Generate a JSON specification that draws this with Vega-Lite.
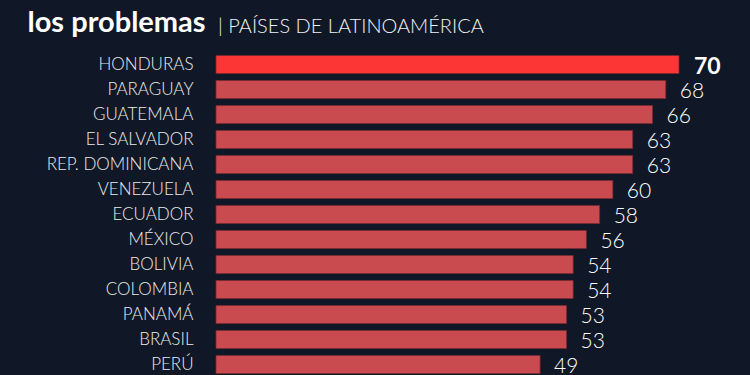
{
  "$schema": "https://vega.github.io/schema/vega-lite/v6.json",
  "width": 463,
  "height": 325,
  "autosize": "none",
  "padding": {"left": 216, "top": 52, "right": 71, "bottom": 0},
  "background": "#101827",
  "config": {"view": {"stroke": null}, "font": "Lato"},
  "title": {
    "text": "| PAÍSES DE LATINOAMÉRICA",
    "anchor": "start",
    "frame": "group",
    "orient": "top",
    "baseline": "alphabetic",
    "offset": 21,
    "dx": 2,
    "dy": 66,
    "font": "Lato",
    "fontSize": 20,
    "fontWeight": 300,
    "color": "#f2f2f2"
  },
  "data": {
    "values": [
      {"pais": "HONDURAS", "valor": 70, "destacado": "si"},
      {"pais": "PARAGUAY", "valor": 68, "destacado": "no"},
      {"pais": "GUATEMALA", "valor": 66, "destacado": "no"},
      {"pais": "EL SALVADOR", "valor": 63, "destacado": "no"},
      {"pais": "REP. DOMINICANA", "valor": 63, "destacado": "no"},
      {"pais": "VENEZUELA", "valor": 60, "destacado": "no"},
      {"pais": "ECUADOR", "valor": 58, "destacado": "no"},
      {"pais": "MÉXICO", "valor": 56, "destacado": "no"},
      {"pais": "BOLIVIA", "valor": 54, "destacado": "no"},
      {"pais": "COLOMBIA", "valor": 54, "destacado": "no"},
      {"pais": "PANAMÁ", "valor": 53, "destacado": "no"},
      {"pais": "BRASIL", "valor": 53, "destacado": "no"},
      {"pais": "PERÚ", "valor": 49, "destacado": "no"}
    ]
  },
  "encoding": {
    "y": {
      "field": "pais",
      "type": "nominal",
      "sort": null,
      "scale": {"paddingInner": 0.28, "paddingOuter": 0.14},
      "axis": {
        "title": "los problemas",
        "titleAngle": 0,
        "titleX": -189,
        "titleY": -21,
        "titleAlign": "left",
        "titleBaseline": "alphabetic",
        "titleFont": "Lato",
        "titleFontSize": 29,
        "titleFontWeight": "bold",
        "titleColor": "#ffffff",
        "domain": false,
        "ticks": false,
        "labelPadding": 23,
        "labelFont": "Lato",
        "labelFontSize": 17,
        "labelFontWeight": 300,
        "labelColor": "#ebebeb"
      }
    },
    "x": {
      "field": "valor",
      "type": "quantitative",
      "scale": {"domain": [0, 70]},
      "axis": null
    }
  },
  "layer": [
    {
      "mark": {"type": "bar", "stroke": "#7a2a30", "strokeWidth": 0.8},
      "encoding": {
        "color": {
          "field": "destacado",
          "type": "nominal",
          "scale": {"domain": ["si", "no"], "range": ["#fc3535", "#c94b50"]},
          "legend": null
        }
      }
    },
    {
      "transform": [{"filter": "datum.destacado == 'no'"}],
      "mark": {"type": "text", "align": "left", "baseline": "middle", "dx": 14, "dy": 2, "font": "Lato", "fontSize": 21, "fontWeight": 300, "color": "#ffffff"},
      "encoding": {"text": {"field": "valor", "type": "quantitative"}}
    },
    {
      "transform": [{"filter": "datum.destacado == 'si'"}],
      "mark": {"type": "text", "align": "left", "baseline": "middle", "dx": 15, "dy": 2, "font": "Lato", "fontSize": 23, "fontWeight": "bold", "color": "#ffffff"},
      "encoding": {"text": {"field": "valor", "type": "quantitative"}}
    }
  ]
}
